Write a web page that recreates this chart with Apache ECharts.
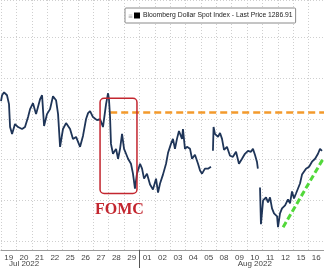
<!DOCTYPE html>
<html><head><meta charset="utf-8">
<script src="https://cdn.jsdelivr.net/npm/echarts@6/dist/echarts.min.js"></script>
<style>html,body{margin:0;padding:0;background:#fff}#c{width:324px;height:268px}</style>
</head><body><div id="c"></div>
<script>
// Trading-day categories (x axis)
var days = ['19','20','21','22','25','26','27','28','29','01','02','03','04','05','08','09','10','11','12','15','16'];
// Intraday sample times, in fractional trading days from the start of the axis (null = gap)
var times = [0.00,0.07,0.20,0.39,0.52,0.59,0.72,0.91,1.11,1.37,1.56,1.76,1.89,2.08,2.28,2.54,2.67,2.80,2.99,3.19,
 3.38,3.58,3.71,3.84,4.03,4.23,4.49,4.68,4.88,5.14,5.33,5.53,5.66,5.79,5.98,6.24,6.44,6.63,6.83,6.96,
 7.02,7.09,7.15,7.28,7.48,7.61,7.74,7.87,8.00,8.13,8.26,8.45,8.58,8.71,8.84,9.04,9.17,9.30,9.49,9.69,
 9.88,10.08,10.21,10.34,10.53,10.73,10.86,11.05,11.18,11.31,11.44,11.57,11.77,11.83,11.96,12.09,12.29,12.42,12.61,12.81,
 12.94,13.07,13.26,13.46,13.65,13.72,13.78,13.82,13.91,14.11,14.24,14.37,14.50,14.69,14.89,15.08,15.28,15.47,15.67,15.86,
 16.06,16.25,16.38,16.51,16.64,16.70,16.77,16.84,16.90,17.04,17.23,17.36,17.49,17.62,17.75,17.95,18.01,18.14,18.27,18.47,
 18.66,18.79,18.92,19.05,19.18,19.31,19.44,19.57,19.70,19.83,20.03,20.22,20.42,20.61,20.74,20.87];
// Bloomberg Dollar Spot Index values
var prices = [1292.16,1292.89,1293.25,1292.89,1291.80,1289.00,1288.16,1289.37,1289.00,1288.76,1289.00,1290.22,1291.19,1291.92,1290.58,1292.40,1292.89,1289.13,1290.58,1291.19,
 1292.77,1292.28,1290.58,1286.58,1288.76,1289.49,1288.76,1287.55,1287.79,1286.58,1287.91,1289.98,1290.70,1290.95,1290.22,1289.85,1289.98,1289.00,1291.80,1293.13,
 1292.40,1290.22,1286.94,1285.73,1286.33,1285.12,1286.33,1288.16,1286.33,1285.73,1285.12,1284.51,1283.30,1281.48,1283.30,1284.51,1283.91,1282.69,1283.30,1281.97,
 1281.36,1282.69,1280.99,1282.09,1283.18,1284.51,1285.85,1286.94,1287.55,1286.33,1287.55,1288.52,1287.55,1288.76,1286.33,1286.58,1286.33,1285.12,1285.61,1284.51,
 1283.67,1283.30,1283.91,1283.91,1284.15,null,1286.09,1289.00,1288.16,1287.79,1288.28,1287.55,1286.21,1286.58,1285.49,1285.36,1285.97,1284.51,1285.12,1285.73,
 1286.09,1285.97,1286.33,1285.61,1284.76,1283.91,null,1281.60,1277.11,1280.02,1280.39,1279.78,1280.39,1279.05,1278.45,1278.08,1276.75,1278.45,1279.05,1279.42,
 1280.15,1279.66,1281.12,1280.27,1280.87,1281.48,1282.09,1283.18,1282.94,1283.91,1284.15,1284.76,1285.12,1285.73,1286.33,1286.09];
var seriesName = 'Bloomberg Dollar Spot Index - Last Price 1286.91';
var monthLabels = {1: 'Jul 2022', 16: 'Aug 2022'};
var monthBreakDay = '01';
// Annotations (axis units)
var resistanceLevel = 1290.83, resistanceStart = 7.1, resistanceEnd = 21;
var trendStart = [18.34, 1276.75], trendEnd = [21, 1285.3];
var fomcBox = {t0: 6.44, t1: 8.84, vTop: 1292.52, vBottom: 1280.87};
var fomcLabelPos = [7.7, 1278.9];

var chart = echarts.init(document.getElementById('c'), null, {renderer: 'canvas'});
var lineData = times.map(function (t, i) { return [t, prices[i]]; });
var grid = {left: 1, right: -1, top: 0, bottom: 16};
chart.setOption({
  animation: false,
  backgroundColor: '#fff',
  grid: grid,
  legend: {
    left: 125, top: 8, padding: [4, 3, 4, 9],
    backgroundColor: '#fff', borderColor: '#8a8a8a', borderWidth: 1, borderRadius: 1,
    icon: 'rect', itemWidth: 6, itemHeight: 6, itemGap: 0,
    textStyle: {fontFamily: 'Liberation Sans', fontSize: 6.8, color: '#222', padding: [1, 0, 0, -2]},
    data: [seriesName]
  },
  xAxis: [
    {type: 'value', min: 0, max: 21, show: false},
    {type: 'category', data: days, boundaryGap: true, position: 'bottom',
     axisLine: {show: true, lineStyle: {color: '#9a9a9a', width: 1}},
     axisTick: {show: false},
     axisLabel: {interval: 0, margin: 4, fontFamily: 'Liberation Sans', fontSize: 8, color: '#444'},
     splitLine: {show: true, interval: 0, lineStyle: {color: '#cfcfcf', type: [1, 2], width: 1}}},
    {type: 'category', data: days, boundaryGap: true, position: 'bottom',
     axisLine: {show: false}, axisTick: {show: false},
     axisLabel: {interval: 0, margin: 10, fontFamily: 'Liberation Sans', fontSize: 8, color: '#444',
       formatter: function (v, i) { return monthLabels[i] || ''; }},
     splitLine: {show: false}}
  ],
  yAxis: {type: 'value', min: 1273.96, max: 1304.54, splitNumber: 6, show: true,
    axisLine: {show: false}, axisTick: {show: false}, axisLabel: {show: false},
    splitLine: {show: true, lineStyle: {color: '#cfcfcf', type: [1, 2], width: 1}}},
  series: [{
    name: seriesName, type: 'line', xAxisIndex: 0, data: lineData,
    showSymbol: false, symbol: 'none', connectNulls: false,
    itemStyle: {color: '#000'},
    lineStyle: {color: '#1f3558', width: 1.8},
    z: 5,
    markLine: {
      silent: true, symbol: 'none', label: {show: false},
      data: [
        [{coord: [resistanceStart, resistanceLevel], lineStyle: {color: '#f39a2c', width: 2.5, type: [7, 4]}},
         {coord: [resistanceEnd, resistanceLevel]}],
        [{coord: trendStart, lineStyle: {color: '#52d83a', width: 3, type: [6, 3]}},
         {coord: trendEnd}]
      ]
    }
  }]
});
var p0 = chart.convertToPixel({xAxisIndex: 0, yAxisIndex: 0}, [fomcBox.t0, fomcBox.vTop]);
var p1 = chart.convertToPixel({xAxisIndex: 0, yAxisIndex: 0}, [fomcBox.t1, fomcBox.vBottom]);
var pl = chart.convertToPixel({xAxisIndex: 0, yAxisIndex: 0}, fomcLabelPos);
var bi = days.indexOf(monthBreakDay);
var cB = chart.convertToPixel({xAxisIndex: 1}, days[bi]);
var cA = chart.convertToPixel({xAxisIndex: 1}, days[bi + 1]);
var sepX = Math.round(cB - (cA - cB) / 2) + 0.5;
var axisY = chart.convertToPixel({yAxisIndex: 0}, 1273.96);
chart.setOption({
  graphic: [
    {type: 'rect', shape: {x: p0[0], y: p0[1], width: p1[0] - p0[0], height: p1[1] - p0[1], r: 4},
     style: {fill: 'none', stroke: '#c3262f', lineWidth: 1.5}, z: 10},
    {type: 'text', x: pl[0], y: pl[1],
     style: {text: 'FOMC', fill: '#c3262f', font: 'bold 16px "Liberation Serif"', textAlign: 'center', textVerticalAlign: 'middle'}, z: 10},
    {type: 'line', shape: {x1: sepX, y1: axisY, x2: sepX, y2: 268}, style: {stroke: '#555', lineWidth: 1}, z: 10},
    {type: 'text', x: 128, y: 16, style: {text: '≡', fill: '#999', font: '6px "DejaVu Sans"', textVerticalAlign: 'middle'}, z: 20}
  ]
});
</script></body></html>
